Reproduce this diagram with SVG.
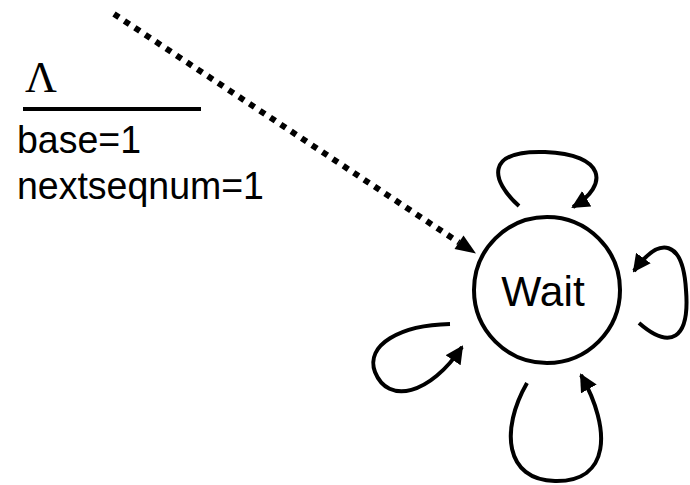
<svg xmlns="http://www.w3.org/2000/svg" width="690" height="485" viewBox="0 0 690 485">
  <defs>
    <marker id="arrow" viewBox="0 0 18 18" refX="16" refY="9" markerWidth="18" markerHeight="18" markerUnits="userSpaceOnUse" orient="auto">
      <path d="M0,0 L18,9 L0,18 z" fill="#000"/>
    </marker>
  </defs>
  <style>
    .label { font-family: "Liberation Sans", Arial, sans-serif; fill: #000; }
    .sym { font-family: "Liberation Serif", "Times New Roman", serif; fill: #000; }
    .loop { fill: none; stroke: #000; stroke-width: 4; marker-end: url(#arrow); }
    .init { fill: none; stroke: #000; stroke-width: 6; stroke-dasharray: 6 6.5; }
  </style>
  <rect width="690" height="485" fill="#fff"/>

  <!-- initial action label -->
  <g id="init-label">
    <text class="sym" x="25" y="92" font-size="44">Λ</text>
    <line x1="23" y1="109" x2="201" y2="109" stroke="#000" stroke-width="4"/>
    <text class="label" transform="translate(17,153) scale(1,1.05)" font-size="37.5">base=1</text>
    <text class="label" transform="translate(17,199) scale(1,1.05)" font-size="37.5">nextseqnum=1</text>
  </g>

  <!-- state -->
  <g id="wait">
    <circle cx="547" cy="290" r="73" fill="#fff" stroke="#000" stroke-width="4"/>
    <text class="label" x="543" y="306" font-size="42.5" text-anchor="middle">Wait</text>
  </g>

  <!-- transitions -->
  <g id="connectors">
    <path class="init" d="M114,14 L459,242.5"/>
    <polygon points="476,253.5 454.5,249 463.5,235.5" fill="#000"/>
    <path class="loop" d="M519,206 C490,180 485,150 545,152 C605,154 610,185 573,207"/>
    <path class="loop" d="M639,323 C670,350 690,340 686,290 C683,240 660,235 634,271"/>
    <path class="loop" d="M527,383 C500,430 505,480 555,481 C610,482 612,430 581,375"/>
    <path class="loop" d="M450,324 C400,325 365,345 375,372 C388,405 430,395 462,347"/>
  </g>
</svg>
